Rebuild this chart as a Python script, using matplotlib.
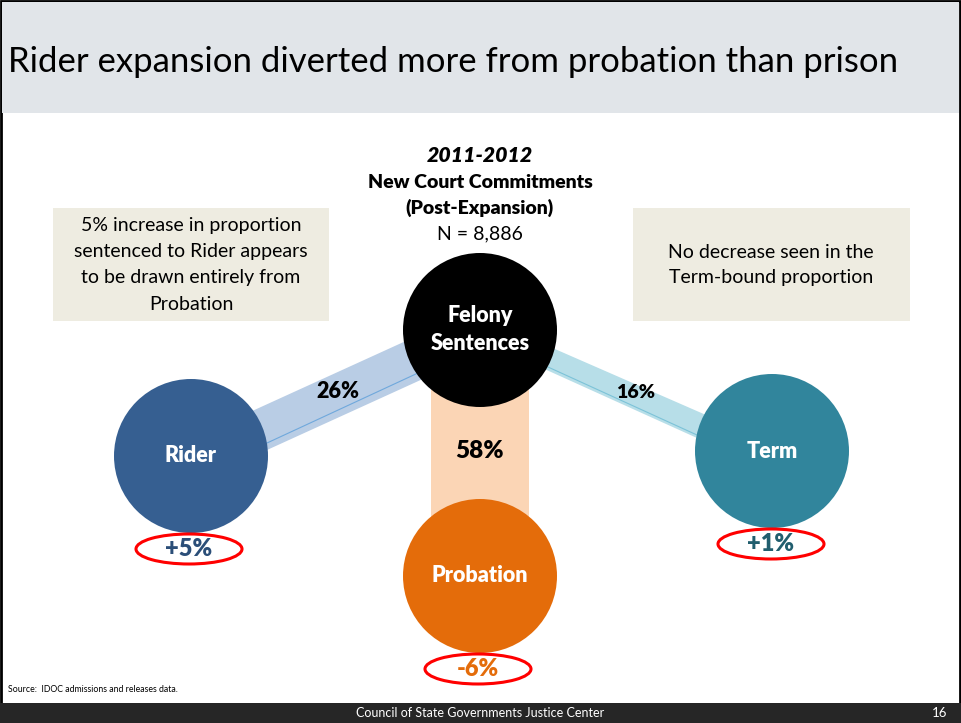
import matplotlib.pyplot as plt
from matplotlib.patches import Circle, Ellipse, Rectangle, Polygon

plt.rcParams['font.family'] = ['Lato', 'DejaVu Sans']

# Data
title = "Rider expansion diverted more from probation than prison"
period = "2011-2012"
subtitle = ["New Court Commitments", "(Post-Expansion)"]
n_label = "N = 8,886"
outcomes = ["Rider", "Probation", "Term"]
shares = [26, 58, 16]          # % of felony sentences
changes = ["+5%", "-6%", "+1%"]  # change vs. pre-expansion
left_note = ["5% increase in proportion", "sentenced to Rider appears",
             "to be drawn entirely from", "Probation"]
right_note = ["No decrease seen in the", "Term-bound proportion"]
source = "Source:  IDOC admissions and releases data."
footer = "Council of State Governments Justice Center"
page = "16"

# Layout (pixel space)
W, H = 961, 723
R = 77
hub = (480, 330)
pos = {"Rider": (191, 456), "Probation": (480, 576), "Term": (772, 451)}
node_col = {"Rider": "#365F91", "Probation": "#E46C0A", "Term": "#31859C"}
band_col = {"Rider": "#B9CDE5", "Probation": "#FBD5B5", "Term": "#B7DEE8"}
chg_col = {"Rider": "#2B4E78", "Probation": "#E46C0A", "Term": "#215E6E"}
chg_pos = {"Rider": (189, 549), "Probation": (478, 669), "Term": (771, 544)}
BOLD = 'heavy'
BODY = 14

fig = plt.figure(figsize=(W / 100, H / 100), dpi=100)
ax = fig.add_axes([0, 0, 1, 1])
ax.set_xlim(0, W)
ax.set_ylim(H, 0)
ax.axis('off')

# slide frame, title band, footer
ax.add_patch(Rectangle((1, 1), W - 2, H - 2, fc='white', ec='black', lw=2, zorder=0))
ax.add_patch(Rectangle((2, 2), W - 4, 111, fc='#E1E5E9', ec='none', zorder=1))
ax.text(8, 62, title, fontsize=25, va='center', ha='left', color='black', zorder=2)
ax.add_patch(Rectangle((0, 703), W, 20, fc='#262626', ec='none', zorder=1))
ax.text(480, 713, footer, fontsize=9, color='white', ha='center', va='center', zorder=2)
ax.text(940, 713, page, fontsize=9.5, color='white', ha='center', va='center', zorder=2)
ax.text(8, 690, source, fontsize=6.3, ha='left', va='center')

# bands
ax.add_patch(Polygon([(250, 412), (408, 340), (425, 378), (267, 450)],
                     fc=band_col["Rider"], ec='none', zorder=2))
ax.plot([267, 418], [443, 373], color='#6FA8DC', lw=0.8, zorder=2)
ax.add_patch(Rectangle((431, 380), 98, 140, fc=band_col["Probation"], ec='none', zorder=2))
ax.add_patch(Polygon([(548, 346), (706, 415), (697, 438), (540, 367)],
                     fc=band_col["Term"], ec='none', zorder=2))
ax.plot([548, 697], [367, 435], color='#7CC3D8', lw=0.8, zorder=2)

share_pos = {"Rider": (338, 392, 15.5), "Probation": (480, 451, 17.5), "Term": (636, 392, 14)}
for name, s in zip(outcomes, shares):
    x, y, fs = share_pos[name]
    ax.text(x, y, f"{s}%", fontsize=fs, fontweight=BOLD, ha='center', va='center', zorder=5)

# nodes
ax.add_patch(Circle(hub, R, fc='black', ec='none', zorder=4))
ax.text(hub[0], 315, "Felony", color='white', fontsize=15.5, fontweight=BOLD,
        ha='center', va='center', zorder=5)
ax.text(hub[0], 343, "Sentences", color='white', fontsize=15.5, fontweight=BOLD,
        ha='center', va='center', zorder=5)
for name, chg in zip(outcomes, changes):
    cx, cy = pos[name]
    ax.add_patch(Circle((cx, cy), R, fc=node_col[name], ec='none', zorder=4))
    ax.text(cx, cy, name, color='white', fontsize=15.5, fontweight=BOLD,
            ha='center', va='center', zorder=5)
    ex, ey = chg_pos[name]
    ax.add_patch(Ellipse((ex, ey), 106, 30, fc='none', ec='#FF0000', lw=2.2, zorder=5))
    ax.text(ex, ey, chg, color=chg_col[name], fontsize=17, fontweight=BOLD,
            ha='center', va='center', zorder=6)

# header text
ax.text(480, 155, period, fontsize=15.3, fontweight=BOLD, style='italic', ha='center', va='center')
ax.text(480, 183, subtitle[0], fontsize=BODY, fontweight=BOLD, ha='center', va='center')
ax.text(480, 208, subtitle[1], fontsize=BODY, fontweight=BOLD, ha='center', va='center')
ax.text(480, 234, n_label, fontsize=BODY, ha='center', va='center')

# note boxes
ax.add_patch(Rectangle((53, 208), 276, 113, fc='#EEECE1', ec='none', zorder=1))
for i, line in enumerate(left_note):
    ax.text(191, 226 + 26 * i, line, fontsize=BODY, ha='center', va='center', zorder=2)
ax.add_patch(Rectangle((633, 208), 277, 113, fc='#EEECE1', ec='none', zorder=1))
for i, line in enumerate(right_note):
    ax.text(771, 252 + 26 * i, line, fontsize=BODY, ha='center', va='center', zorder=2)

fig.savefig('out.png', dpi=100)
